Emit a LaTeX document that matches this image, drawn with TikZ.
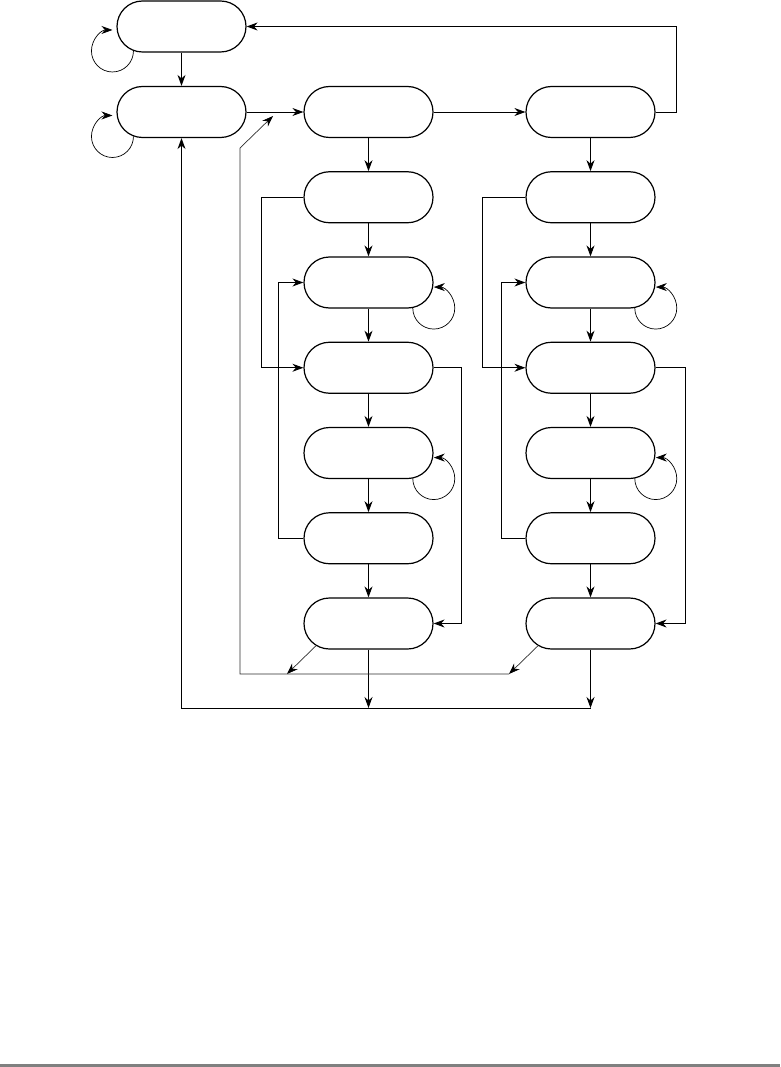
\documentclass[tikz,border=0pt]{standalone}
\usetikzlibrary{shapes.misc,arrows.meta}
\begin{document}
\begin{tikzpicture}[x=1pt,y=1pt,
  state/.style={rounded rectangle, draw, line width=1.2pt, minimum width=129pt, minimum height=51pt, inner sep=0pt},
  conn/.style={line width=0.9pt, -{Stealth[length=11pt,width=8pt]}},
  gconn/.style={draw=black!82, line width=0.7pt, -{Stealth[length=11pt,width=8pt,color=black]}},
  loopy/.style={line width=0.7pt, -{Stealth[length=11pt,width=8pt]}},
]
\useasboundingbox (0,0) rectangle (780,-1067);
\draw[line width=3pt, draw={rgb,255:red,128;green,128;blue,128}] (0,-1065.5) -- (780,-1065.5);

% nodes
\node[state] (A) at (181.5,-26.5) {};
\node[state] (B) at (181.5,-112) {};
\node[state] (C1) at (368.5,-112) {};
\node[state] (C2) at (368.5,-197.25) {};
\node[state] (C3) at (368.5,-282.5) {};
\node[state] (C4) at (368.5,-367.75) {};
\node[state] (C5) at (368.5,-453) {};
\node[state] (C6) at (368.5,-538.25) {};
\node[state] (C7) at (368.5,-623.5) {};
\node[state] (D1) at (590.5,-112) {};
\node[state] (D2) at (590.5,-197.25) {};
\node[state] (D3) at (590.5,-282.5) {};
\node[state] (D4) at (590.5,-367.75) {};
\node[state] (D5) at (590.5,-453) {};
\node[state] (D6) at (590.5,-538.25) {};
\node[state] (D7) at (590.5,-623.5) {};

% coordinates for free ends
\coordinate (m1) at (368.5,-708);
\coordinate (m2) at (590.5,-708);
\coordinate (g1) at (509,-674);
\coordinate (g2) at (287,-674);
\coordinate (gt) at (273,-116);

% top row
\draw[conn] (A.south) -- (B.north);
\draw[conn] (B.east) -- (C1.west);
\draw[conn] (C1.east) -- (D1.west);
\draw[conn] (D1.east) -- ++(21,0) |- (A.east);

% column verticals
\foreach \i/\j in {1/2,2/3,3/4,4/5,5/6,6/7}{
  \draw[conn] (C\i.south) -- (C\j.north);
  \draw[conn] (D\i.south) -- (D\j.north);
}

% side connectors column C
\draw[conn] (C2.west) -- ++(-42,0) |- (C4.west);
\draw[conn] (C6.west) -- ++(-25,0) |- (C3.west);
\draw[conn] (C4.east) -- ++(28,0) |- (C7.east);
% side connectors column D
\draw[conn] (D2.west) -- ++(-43,0) |- (D4.west);
\draw[conn] (D6.west) -- ++(-24,0) |- (D3.west);
\draw[conn] (D4.east) -- ++(30,0) |- (D7.east);

% self loops
\draw[loopy] (A.207) arc[start angle=0,end angle=-270,radius=21];
\draw[loopy] (B.207) arc[start angle=0,end angle=-270,radius=21];
\draw[loopy] (C3.-30) arc[start angle=180,end angle=450,radius=21];
\draw[loopy] (C5.-30) arc[start angle=180,end angle=450,radius=21];
\draw[loopy] (D3.-30) arc[start angle=180,end angle=450,radius=21];
\draw[loopy] (D5.-30) arc[start angle=180,end angle=450,radius=21];

% bottom black returns
\draw[conn] (C7.south) -- (m1);
\draw[conn] (D7.south) -- (m2);
\draw[conn] (m2) -- (181.5,-708) -- (B.south);

% gray returns
\draw[gconn] (C7.203) -- (g2);
\draw[gconn] (D7.203) -- (g1);
\draw[gconn] (g1) -- (240,-674) -- (240,-148) -- (gt);
\end{tikzpicture}
\end{document}
